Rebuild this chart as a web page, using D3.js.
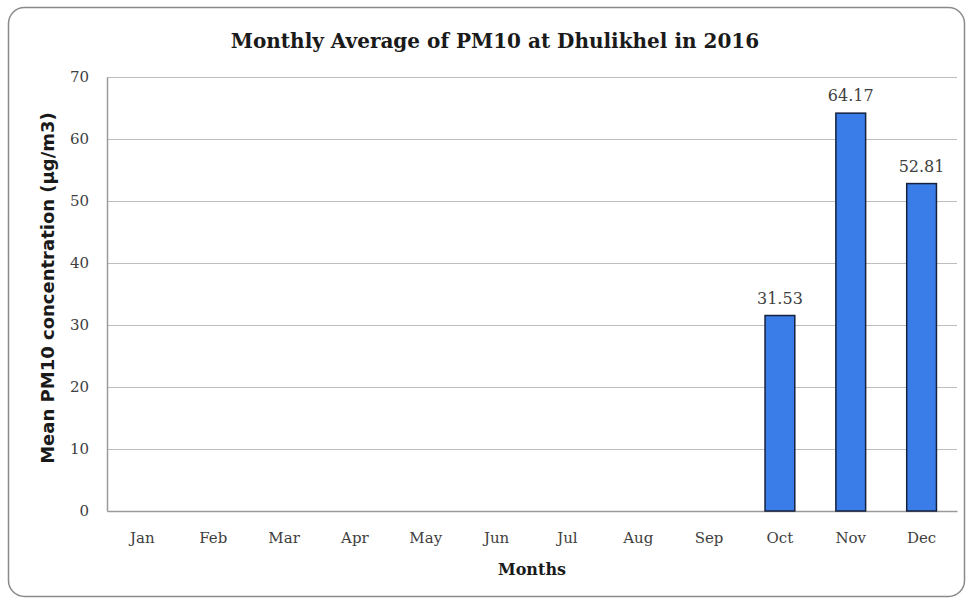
<!DOCTYPE html>
<meta charset="utf-8">
<style>
body { margin: 0; background: #fff; }
.title { font-family: "DejaVu Serif", serif; font-weight: bold; font-size: 20px; fill: #1a1a1a; }
.ytitle { font-family: "DejaVu Sans", sans-serif; font-weight: bold; font-size: 18px; fill: #1a1a1a; }
.xtitle { font-family: "DejaVu Serif", serif; font-weight: bold; font-size: 16px; fill: #1a1a1a; }
.tick text { font-family: "DejaVu Serif", serif; font-size: 15px; fill: #404040; }
.label { font-family: "DejaVu Serif", serif; font-size: 16px; fill: #404040; }
.grid line { stroke: #bdbdbd; stroke-width: 1px; }
</style>
<svg width="970" height="603"></svg>
<script src="https://cdnjs.cloudflare.com/ajax/libs/d3/7.8.5/d3.min.js"></script>
<script>

// data
var months = ["Jan", "Feb", "Mar", "Apr", "May", "Jun", "Jul", "Aug", "Sep", "Oct", "Nov", "Dec"];
var pm10 = [null, null, null, null, null, null, null, null, null, 31.53, 64.17, 52.81];
var yTicks = [0, 10, 20, 30, 40, 50, 60, 70];

var svg = d3.select("svg"),
    margin = {top: 77, right: 13, bottom: 92, left: 107},
    width = +svg.attr("width") - margin.left - margin.right,
    height = +svg.attr("height") - margin.top - margin.bottom;

// outer frame
svg.append("rect")
    .attr("x", 8.5).attr("y", 7.5)
    .attr("width", 956).attr("height", 589)
    .attr("rx", 16).attr("ry", 16)
    .attr("fill", "#fff")
    .attr("stroke", "#8a8a8a")
    .attr("stroke-width", 1.5);

var x = d3.scaleBand()
    .domain(months)
    .range([0, width])
    .paddingInner(0.58)
    .paddingOuter(0.29);

var y = d3.scaleLinear()
    .domain([0, 70])
    .range([height, 0]);

var g = svg.append("g")
    .attr("transform", "translate(" + margin.left + "," + margin.top + ")");

// gridlines
g.append("g")
    .attr("class", "grid")
  .selectAll("line")
  .data(yTicks.slice(1))
  .enter().append("line")
    .attr("x1", 0)
    .attr("x2", width)
    .attr("y1", function(d) { return Math.round(y(d)) + 0.5; })
    .attr("y2", function(d) { return Math.round(y(d)) + 0.5; });

// y axis
var yAxis = g.append("g")
    .call(d3.axisLeft(y).tickValues(yTicks).tickSize(0).tickPadding(18));
yAxis.select(".domain").attr("stroke", "#9a9a9a").attr("stroke-width", 1.5);

// x axis
var xAxis = g.append("g")
    .attr("transform", "translate(0," + height + ")")
    .call(d3.axisBottom(x).tickSize(0).tickPadding(21));
xAxis.select(".domain").attr("stroke", "#9a9a9a").attr("stroke-width", 1.5);

var rows = months.map(function(m, i) { return {month: m, value: pm10[i]}; })
    .filter(function(d) { return d.value != null; });

// bars
g.selectAll(".bar")
  .data(rows)
  .enter().append("rect")
    .attr("class", "bar")
    .attr("x", function(d) { return x(d.month); })
    .attr("y", function(d) { return y(d.value); })
    .attr("width", x.bandwidth())
    .attr("height", function(d) { return height - y(d.value); })
    .attr("fill", "#3b7de8")
    .attr("stroke", "#14213d")
    .attr("stroke-width", 1.5);

// value labels
g.selectAll(".label")
  .data(rows)
  .enter().append("text")
    .attr("class", "label")
    .attr("x", function(d) { return x(d.month) + x.bandwidth() / 2; })
    .attr("y", function(d) { return y(d.value) - 12; })
    .attr("text-anchor", "middle")
    .text(function(d) { return d.value.toFixed(2); });

// titles
svg.append("text")
    .attr("class", "title")
    .attr("x", 495)
    .attr("y", 48)
    .attr("text-anchor", "middle")
    .text("Monthly Average of PM10 at Dhulikhel in 2016");

svg.append("text")
    .attr("class", "xtitle")
    .attr("x", margin.left + width / 2)
    .attr("y", 575)
    .attr("text-anchor", "middle")
    .text("Months");

svg.append("text")
    .attr("class", "ytitle")
    .attr("transform", "translate(54,288) rotate(-90)")
    .attr("text-anchor", "middle")
    .text("Mean PM10 concentration (µg/m3)");

</script>
